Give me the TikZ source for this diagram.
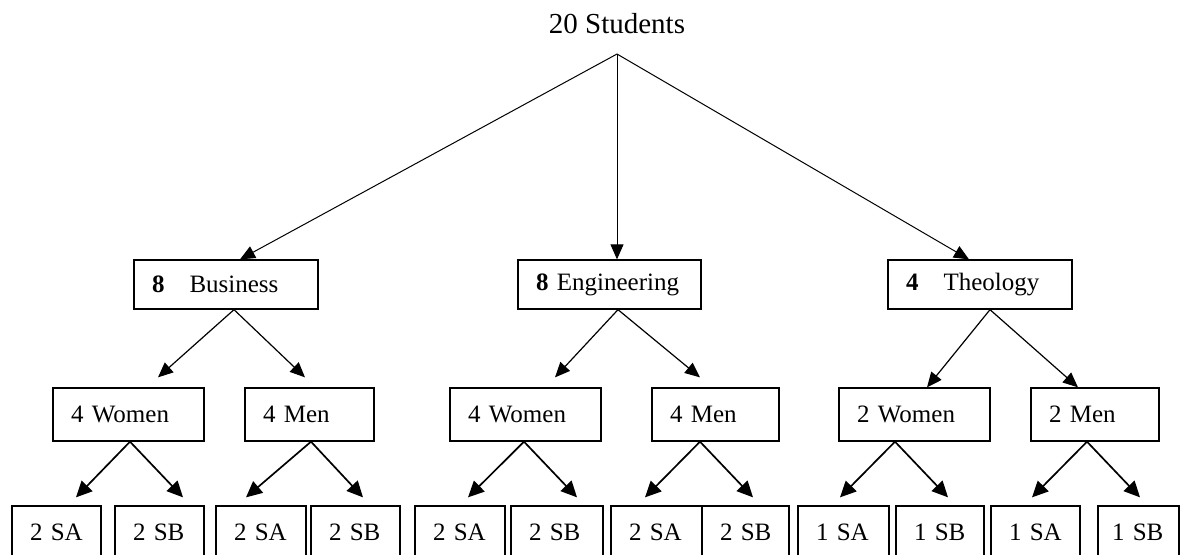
\documentclass[tikz,border=0pt]{standalone}
\usepackage{fontspec}
\setmainfont{Liberation Serif}
\usetikzlibrary{arrows.meta}
\tikzset{
  box/.style={draw,line width=0.65pt,inner xsep=9pt,inner ysep=0pt,align=left,
              text width=#1,font=\fontsize{12.5}{15}\selectfont},
  arr/.style={-{Triangle[length=7.5pt,width=6.5pt]},line width=0.6pt},
  arrb/.style={-{Triangle[length=8pt,width=7.5pt]},line width=0.85pt}
}
\begin{document}
\begin{tikzpicture}[x=0.5pt,y=-0.5pt]
  \useasboundingbox (0,0) rectangle (1189,554);
  \clip (0,0) rectangle (1189,554);
  % root
  \node[font=\fontsize{14.5}{17}\selectfont] (title) at (617,24) {20 Students};
  \coordinate (apex) at (617,54);
  % colleges
  \node[box=74pt,minimum height=24.5pt] (bus) at (226,284.5) {\textbf{8}\quad Business};
  \node[box=73.5pt,minimum height=24.5pt] (eng) at (609.5,284.5) {\textbf{8} Engineering};
  \node[box=74pt,minimum height=24.5pt] (theo) at (980,284.5) {\textbf{4}\quad Theology};
  % women and men
  \node[box=57.5pt,minimum height=26.5pt] (busw) at (128.5,414.5) {4 Women};
  \node[box=46.5pt,minimum height=26.5pt] (busm) at (309.5,414.5) {4 Men};
  \node[box=57.5pt,minimum height=26.5pt] (engw) at (525.5,414.5) {4 Women};
  \node[box=45.5pt,minimum height=26.5pt] (engm) at (715.5,414.5) {4 Men};
  \node[box=57.5pt,minimum height=26.5pt] (theow) at (914.5,414.5) {2 Women};
  \node[box=46pt,minimum height=26.5pt] (theom) at (1095,414.5) {2 Men};
  % SA / SB groups
  \foreach \name/\cx/\tw/\txt in {b1/56.5/26.5pt/2 SA, b2/159.5/26.5pt/2 SB,
      b3/261/27pt/2 SA, b4/355.5/26.5pt/2 SB, e1/460/27pt/2 SA, e2/557/28pt/2 SB,
      e3/656.5/27.5pt/2 SA, e4/745.5/25.5pt/2 SB, t1/843.5/27.5pt/1 SA,
      t2/940/26pt/1 SB, t3/1035.5/26.5pt/1 SA}{
    \node[box=\tw,minimum height=26pt] (\name) at (\cx,532) {\mbox{\txt}};
  }
  \node[box=26.5pt,inner xsep=7pt,minimum height=26pt] (t4) at (1138.5,532) {\mbox{1 SB}};
  % arrows from the root
  \draw[arr,line width=0.5pt] (apex) -- ([shift={(14,0)}]bus.north);
  \draw[arr,line width=0.5pt] (apex) -- ([shift={(7.5,0)}]eng.north);
  \draw[arr,line width=0.5pt] (apex) -- ([shift={(-11,0)}]theo.north);
  % arrows to women and men
  \draw[arr] ([shift={(8,0)}]bus.south) -- ([shift={(29.5,-10)}]busw.north);
  \draw[arr] ([shift={(8,0)}]bus.south) -- ([shift={(-4.5,-10)}]busm.north);
  \draw[arr] ([shift={(8.5,0)}]eng.south) -- ([shift={(29.5,-10)}]engw.north);
  \draw[arr] ([shift={(8.5,0)}]eng.south) -- ([shift={(-15.5,-10)}]engm.north);
  \draw[arr] ([shift={(10,0)}]theo.south) -- ([shift={(12.5,0)}]theow.north);
  \draw[arr] ([shift={(10,0)}]theo.south) -- ([shift={(-17,0)}]theom.north);
  % arrows to SA / SB
  \draw[arrb] ([shift={(1.5,0)}]busw.south) -- ([shift={(19.5,-8)}]b1.north);
  \draw[arrb] ([shift={(1.5,0)}]busw.south) -- ([shift={(23.5,-8)}]b2.north);
  \draw[arrb] ([shift={(1.5,0)}]busm.south) -- ([shift={(-15,-8)}]b3.north);
  \draw[arrb] ([shift={(1.5,0)}]busm.south) -- ([shift={(7.5,-8)}]b4.north);
  \draw[arrb] ([shift={(-1.5,0)}]engw.south) -- ([shift={(8,-8)}]e1.north);
  \draw[arrb] ([shift={(-1.5,0)}]engw.south) -- ([shift={(20,-8)}]e2.north);
  \draw[arrb] ([shift={(-15.5,0)}]engm.south) -- ([shift={(-11.5,-8)}]e3.north);
  \draw[arrb] ([shift={(-15.5,0)}]engm.south) -- ([shift={(7.5,-8)}]e4.north);
  \draw[arrb] ([shift={(-19.5,0)}]theow.south) -- ([shift={(-3.5,-8)}]t1.north);
  \draw[arrb] ([shift={(-19.5,0)}]theow.south) -- ([shift={(8,-8)}]t2.north);
  \draw[arrb] ([shift={(-8,0)}]theom.south) -- ([shift={(-3.5,-8)}]t3.north);
  \draw[arrb] ([shift={(-8,0)}]theom.south) -- ([shift={(1.5,-8)}]t4.north);
\end{tikzpicture}
\end{document}
